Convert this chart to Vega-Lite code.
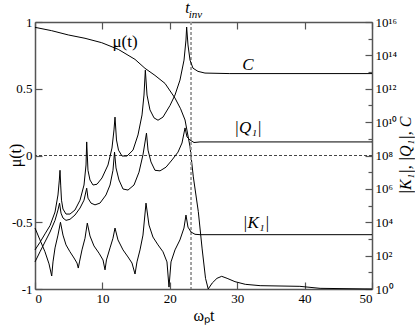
{
  "$schema": "https://vega.github.io/schema/vega-lite/v6.json",
  "autosize": {"type": "none"},
  "padding": {"left": 35, "top": 22, "right": 43, "bottom": 43},
  "width": 337,
  "height": 267,
  "background": "white",
  "config": {
    "font": "Liberation Serif",
    "view": {"stroke": null},
    "axis": {
      "grid": false,
      "domainColor": "#555",
      "domainWidth": 1.5,
      "tickColor": "#555",
      "tickWidth": 1.2,
      "labelColor": "#000",
      "labelFont": "Liberation Serif",
      "labelFontSize": 13,
      "titleFont": "Liberation Serif",
      "titleFontWeight": "normal",
      "titleFontSize": 16,
      "titleColor": "#000"
    }
  },
  "datasets": {
    "mu": [
      {"t": 0, "mu": 0.96}, {"t": 2.47, "mu": 0.935}, {"t": 4.94, "mu": 0.903}, {"t": 7.42, "mu": 0.878},
      {"t": 9.9, "mu": 0.845}, {"t": 12.36, "mu": 0.795}, {"t": 14.84, "mu": 0.72}, {"t": 16.32, "mu": 0.653},
      {"t": 17.8, "mu": 0.6}, {"t": 19.29, "mu": 0.54}, {"t": 20.77, "mu": 0.43}, {"t": 21.6, "mu": 0.35},
      {"t": 22.26, "mu": 0.266}, {"t": 23.0, "mu": 0.066}, {"t": 23.49, "mu": -0.16}, {"t": 24.23, "mu": -0.42},
      {"t": 24.8, "mu": -0.7}, {"t": 25.3, "mu": -0.92}, {"t": 25.7, "mu": -1.0}, {"t": 26.3, "mu": -0.955},
      {"t": 27.0, "mu": -0.92}, {"t": 27.7, "mu": -0.905}, {"t": 28.5, "mu": -0.92}, {"t": 29.67, "mu": -0.945},
      {"t": 31.2, "mu": -0.965}, {"t": 33.4, "mu": -0.975}, {"t": 39.3, "mu": -0.98}, {"t": 42.3, "mu": -0.995},
      {"t": 50, "mu": -1.0}
    ],
    "curves": [
      {"s": "C", "t": 0, "v": 220}, {"s": "C", "t": 0.74, "v": 630}, {"s": "C", "t": 1.48, "v": 2000}, {"s": "C", "t": 2.23, "v": 6300},
      {"s": "C", "t": 2.97, "v": 4.1e4}, {"s": "C", "t": 3.41, "v": 4.3e5}, {"s": "C", "t": 3.6, "v": 3e6}, {"s": "C", "t": 3.71, "v": 1.3e7},
      {"s": "C", "t": 3.82, "v": 1.5e6}, {"s": "C", "t": 3.93, "v": 2.1e5}, {"s": "C", "t": 4.15, "v": 6.2e4}, {"s": "C", "t": 4.6, "v": 3.1e4},
      {"s": "C", "t": 5.19, "v": 3.1e4}, {"s": "C", "t": 5.93, "v": 5.4e4}, {"s": "C", "t": 6.68, "v": 2.1e5}, {"s": "C", "t": 7.27, "v": 1.7e6},
      {"s": "C", "t": 7.57, "v": 2.7e7}, {"s": "C", "t": 7.67, "v": 6.5e8}, {"s": "C", "t": 7.86, "v": 1.3e7}, {"s": "C", "t": 8.16, "v": 3.4e6},
      {"s": "C", "t": 8.61, "v": 1.7e6}, {"s": "C", "t": 9.2, "v": 1.9e6}, {"s": "C", "t": 9.94, "v": 4.5e6}, {"s": "C", "t": 10.83, "v": 2.7e7},
      {"s": "C", "t": 11.42, "v": 2.8e8}, {"s": "C", "t": 11.72, "v": 3.4e9}, {"s": "C", "t": 11.87, "v": 2e10}, {"s": "C", "t": 12.09, "v": 8.5e8},
      {"s": "C", "t": 12.39, "v": 2.1e8}, {"s": "C", "t": 12.91, "v": 9.3e7}, {"s": "C", "t": 13.65, "v": 9.3e7}, {"s": "C", "t": 14.54, "v": 2.1e8},
      {"s": "C", "t": 15.28, "v": 1.7e9}, {"s": "C", "t": 15.88, "v": 2.7e10}, {"s": "C", "t": 16.17, "v": 4.2e11}, {"s": "C", "t": 16.37, "v": 1.3e13},
      {"s": "C", "t": 16.62, "v": 4.2e11}, {"s": "C", "t": 17.06, "v": 5.4e10}, {"s": "C", "t": 17.66, "v": 1.8e10}, {"s": "C", "t": 18.25, "v": 1.3e10},
      {"s": "C", "t": 18.99, "v": 2e10}, {"s": "C", "t": 20.03, "v": 1e11}, {"s": "C", "t": 20.77, "v": 4.2e11}, {"s": "C", "t": 21.51, "v": 3.3e12},
      {"s": "C", "t": 22.11, "v": 5.2e13}, {"s": "C", "t": 22.4, "v": 8.3e14}, {"s": "C", "t": 22.5, "v": 5e15}, {"s": "C", "t": 22.7, "v": 4.2e14},
      {"s": "C", "t": 23.0, "v": 5.2e13}, {"s": "C", "t": 23.44, "v": 1.7e13}, {"s": "C", "t": 24.18, "v": 1.1e13}, {"s": "C", "t": 25.22, "v": 8.7e12},
      {"s": "C", "t": 28.9, "v": 8.1e12}, {"s": "C", "t": 50, "v": 8.1e12},

      {"s": "Q", "t": 0, "v": 42}, {"s": "Q", "t": 0.74, "v": 170}, {"s": "Q", "t": 1.48, "v": 660}, {"s": "Q", "t": 2.23, "v": 2600},
      {"s": "Q", "t": 2.97, "v": 1.3e4}, {"s": "Q", "t": 3.41, "v": 5.4e4}, {"s": "Q", "t": 3.64, "v": 1.4e5}, {"s": "Q", "t": 3.86, "v": 3.5e4},
      {"s": "Q", "t": 4.15, "v": 1.8e4}, {"s": "Q", "t": 4.6, "v": 1.3e4}, {"s": "Q", "t": 5.19, "v": 1.5e4}, {"s": "Q", "t": 5.93, "v": 2.7e4},
      {"s": "Q", "t": 6.68, "v": 7.1e4}, {"s": "Q", "t": 7.27, "v": 2.1e5}, {"s": "Q", "t": 7.67, "v": 1.1e6}, {"s": "Q", "t": 7.86, "v": 2.8e5},
      {"s": "Q", "t": 8.31, "v": 1.4e5}, {"s": "Q", "t": 8.9, "v": 1.1e5}, {"s": "Q", "t": 9.64, "v": 1.4e5}, {"s": "Q", "t": 10.53, "v": 4.3e5},
      {"s": "Q", "t": 11.13, "v": 1.7e6}, {"s": "Q", "t": 11.57, "v": 1.3e7}, {"s": "Q", "t": 11.8, "v": 1.6e8}, {"s": "Q", "t": 12.02, "v": 1.8e7},
      {"s": "Q", "t": 12.46, "v": 3.4e6}, {"s": "Q", "t": 13.06, "v": 9.8e5}, {"s": "Q", "t": 13.8, "v": 8.5e5}, {"s": "Q", "t": 14.69, "v": 1.7e6},
      {"s": "Q", "t": 15.43, "v": 1e7}, {"s": "Q", "t": 16.02, "v": 1.1e8}, {"s": "Q", "t": 16.54, "v": 2.2e9}, {"s": "Q", "t": 16.77, "v": 2.1e8},
      {"s": "Q", "t": 17.21, "v": 4.1e7}, {"s": "Q", "t": 17.8, "v": 1.3e7}, {"s": "Q", "t": 18.55, "v": 1.2e7}, {"s": "Q", "t": 19.44, "v": 2e7},
      {"s": "Q", "t": 20.33, "v": 5.4e7}, {"s": "Q", "t": 21.22, "v": 1.6e8}, {"s": "Q", "t": 21.81, "v": 5.6e8}, {"s": "Q", "t": 22.26, "v": 4.5e9},
      {"s": "Q", "t": 22.55, "v": 1.3e9}, {"s": "Q", "t": 23.0, "v": 8.5e8}, {"s": "Q", "t": 23.59, "v": 6e8}, {"s": "Q", "t": 24.48, "v": 6.5e8},
      {"s": "Q", "t": 50, "v": 6.5e8},

      {"s": "K", "t": 0, "v": 4500}, {"s": "K", "t": 0.74, "v": 870}, {"s": "K", "t": 1.48, "v": 170}, {"s": "K", "t": 2.08, "v": 32},
      {"s": "K", "t": 2.48, "v": 6}, {"s": "K", "t": 2.67, "v": 42}, {"s": "K", "t": 2.97, "v": 290}, {"s": "K", "t": 3.41, "v": 1700},
      {"s": "K", "t": 3.78, "v": 1e4}, {"s": "K", "t": 4.15, "v": 1700}, {"s": "K", "t": 4.6, "v": 440}, {"s": "K", "t": 5.19, "v": 170},
      {"s": "K", "t": 5.79, "v": 72}, {"s": "K", "t": 6.23, "v": 36}, {"s": "K", "t": 6.42, "v": 18}, {"s": "K", "t": 6.6, "v": 42},
      {"s": "K", "t": 6.97, "v": 220}, {"s": "K", "t": 7.42, "v": 1100}, {"s": "K", "t": 7.76, "v": 8900}, {"s": "K", "t": 8.16, "v": 1500},
      {"s": "K", "t": 8.75, "v": 380}, {"s": "K", "t": 9.5, "v": 140}, {"s": "K", "t": 10.09, "v": 55}, {"s": "K", "t": 10.39, "v": 14},
      {"s": "K", "t": 10.6, "v": 55}, {"s": "K", "t": 11.13, "v": 290}, {"s": "K", "t": 11.57, "v": 1100}, {"s": "K", "t": 11.87, "v": 4500},
      {"s": "K", "t": 12.31, "v": 870}, {"s": "K", "t": 13.06, "v": 220}, {"s": "K", "t": 13.8, "v": 83}, {"s": "K", "t": 14.39, "v": 36},
      {"s": "K", "t": 14.84, "v": 7.9}, {"s": "K", "t": 15.13, "v": 42}, {"s": "K", "t": 15.58, "v": 220}, {"s": "K", "t": 16.02, "v": 1700},
      {"s": "K", "t": 16.47, "v": 1.4e5}, {"s": "K", "t": 16.91, "v": 6800}, {"s": "K", "t": 17.5, "v": 1300}, {"s": "K", "t": 18.25, "v": 440},
      {"s": "K", "t": 18.99, "v": 170}, {"s": "K", "t": 19.58, "v": 42}, {"s": "K", "t": 19.88, "v": 1.3}, {"s": "K", "t": 20.18, "v": 42},
      {"s": "K", "t": 20.77, "v": 220}, {"s": "K", "t": 21.5, "v": 870}, {"s": "K", "t": 22.1, "v": 4500}, {"s": "K", "t": 22.4, "v": 2.7e4},
      {"s": "K", "t": 22.7, "v": 5100}, {"s": "K", "t": 23.15, "v": 2600}, {"s": "K", "t": 23.74, "v": 1900}, {"s": "K", "t": 24.5, "v": 1800},
      {"s": "K", "t": 50, "v": 1800}
    ]
  },
  "layer": [
    {
      "layer": [
        {
          "data": {"name": "mu"},
          "mark": {"type": "line", "color": "#000", "strokeWidth": 1},
          "encoding": {
            "x": {
              "field": "t", "type": "quantitative",
              "scale": {"domain": [0, 50], "nice": false},
              "axis": {
                "orient": "bottom",
                "title": "ωₚt",
                "values": [0, 5, 10, 15, 20, 25, 30, 35, 40, 45, 50],
                "labelExpr": "datum.value % 10 === 0 ? '' + datum.value : ''",
                "tickSize": {"condition": {"test": "datum.value % 10 === 0", "value": -7}, "value": -4},
                "labelPadding": 10,
                "titlePadding": 2
              }
            },
            "y": {
              "field": "mu", "type": "quantitative",
              "scale": {"domain": [-1, 1], "nice": false},
              "axis": {
                "orient": "left",
                "title": "μ(t)",
                "values": [-1, -0.75, -0.5, -0.25, 0, 0.25, 0.5, 0.75, 1],
                "labelExpr": "(datum.value * 2) % 1 === 0 ? '' + datum.value : ''",
                "tickSize": {"condition": {"test": "(datum.value * 2) % 1 === 0", "value": -7}, "value": -4},
                "labelPadding": 10,
                "titleX": -20,
                "titleY": 133,
                "titleBaseline": "middle"
              }
            }
          }
        },
        {
          "data": {"values": [{"mu": 0}]},
          "mark": {"type": "rule", "color": "#444", "strokeWidth": 1, "strokeDash": [3, 2]},
          "encoding": {"y": {"field": "mu", "type": "quantitative"}}
        },
        {
          "data": {"values": [{"t": 23.15}]},
          "mark": {"type": "rule", "color": "#999", "strokeWidth": 1.8, "strokeDash": [3, 2]},
          "encoding": {"x": {"field": "t", "type": "quantitative"}}
        },
        {
          "data": {"values": [{"t": 13.35, "mu": 0.85, "label": "μ(t)"}]},
          "mark": {"type": "text", "font": "Liberation Serif", "fontSize": 17, "align": "center", "baseline": "middle", "color": "#000"},
          "encoding": {
            "x": {"field": "t", "type": "quantitative"},
            "y": {"field": "mu", "type": "quantitative"},
            "text": {"field": "label"}
          }
        },
        {
          "data": {"values": [{"t": 22.3, "mu": 1.067, "label": "t"}]},
          "mark": {"type": "text", "font": "Liberation Serif", "fontSize": 16, "fontStyle": "italic", "align": "left", "baseline": "alphabetic", "color": "#000"},
          "encoding": {
            "x": {"field": "t", "type": "quantitative"},
            "y": {"field": "mu", "type": "quantitative"},
            "text": {"field": "label"}
          }
        },
        {
          "data": {"values": [{"t": 22.8, "mu": 1.03, "label": "inv"}]},
          "mark": {"type": "text", "font": "Liberation Serif", "fontSize": 11, "fontStyle": "italic", "align": "left", "baseline": "alphabetic", "color": "#000"},
          "encoding": {
            "x": {"field": "t", "type": "quantitative"},
            "y": {"field": "mu", "type": "quantitative"},
            "text": {"field": "label"}
          }
        }
      ]
    },
    {
      "layer": [
        {
          "data": {"name": "curves"},
          "mark": {"type": "line", "color": "#000", "strokeWidth": 1},
          "encoding": {
            "x": {
              "field": "t", "type": "quantitative",
              "scale": {"domain": [0, 50], "nice": false},
              "axis": {
                "orient": "top",
                "title": null,
                "values": [0, 5, 10, 15, 20, 25, 30, 35, 40, 45, 50],
                "labels": false,
                "tickSize": {"condition": {"test": "datum.value % 10 === 0", "value": -7}, "value": -4}
              }
            },
            "y": {
              "field": "v", "type": "quantitative",
              "scale": {"type": "log", "domain": [1, 1e16], "nice": false},
              "axis": {
                "orient": "right",
                "title": "|K₁|, |Q₁|, C",
                "titleFontStyle": "italic",
                "values": [1, 1e1, 1e2, 1e3, 1e4, 1e5, 1e6, 1e7, 1e8, 1e9, 1e10, 1e11, 1e12, 1e13, 1e14, 1e15, 1e16],
                "labelExpr": "['10⁰','','10²','','10⁴','','10⁶','','10⁸','','10¹⁰','','10¹²','','10¹⁴','','10¹⁶'][round(log(datum.value) / LN10)]",
                "tickSize": {"condition": {"test": "round(log(datum.value) / LN10) % 2 === 0", "value": -7}, "value": -4},
                "labelPadding": 10,
                "titleX": 33,
                "titleY": 133,
                "titleAngle": -90,
                "titleBaseline": "middle"
              }
            },
            "detail": {"field": "s"}
          }
        },
        {
          "data": {"values": [
            {"t": 31.6, "v": 2.6e13, "label": "C"},
            {"t": 31.6, "v": 4.5e9, "label": "|Q₁|"},
            {"t": 32.8, "v": 8.9e3, "label": "|K₁|"}
          ]},
          "mark": {"type": "text", "font": "Liberation Serif", "fontSize": 17, "fontStyle": "italic", "align": "center", "baseline": "middle", "color": "#000"},
          "encoding": {
            "x": {"field": "t", "type": "quantitative"},
            "y": {"field": "v", "type": "quantitative"},
            "text": {"field": "label"}
          }
        }
      ]
    }
  ],
  "resolve": {"scale": {"y": "independent"}, "axis": {"x": "independent"}}
}
